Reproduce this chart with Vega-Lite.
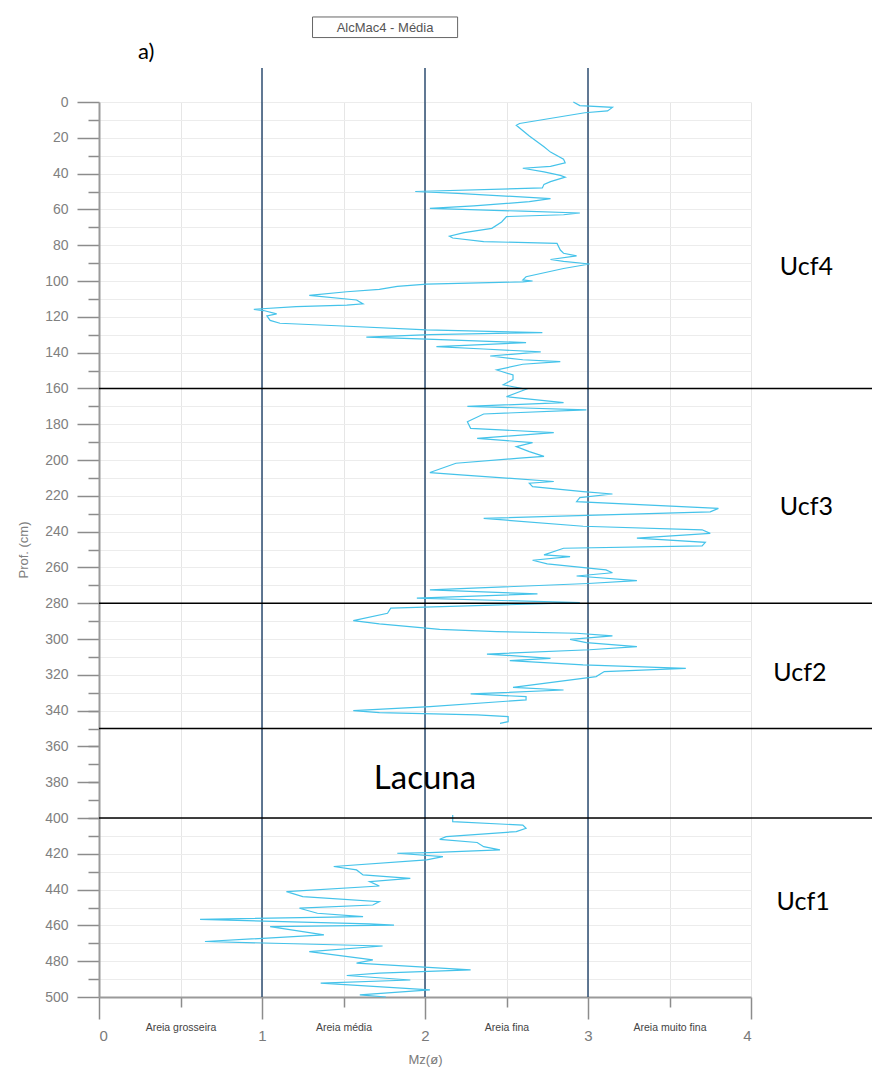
{
  "$schema": "https://vega.github.io/schema/vega-lite/v6.json",
  "width": 652,
  "height": 895,
  "autosize": {"type": "none"},
  "padding": {"left": 99, "top": 102, "right": 121, "bottom": 80},
  "background": "white",
  "config": {"view": {"stroke": null}, "font": "Liberation Sans"},
  "datasets": {
    "curve": [
      {"s":1,"d":0,"mz":2.91},{"s":1,"d":2,"mz":2.95},{"s":1,"d":3,"mz":3.15},{"s":1,"d":5,"mz":3.12},{"s":1,"d":6,"mz":2.98},
      {"s":1,"d":12,"mz":2.58},{"s":1,"d":13,"mz":2.56},{"s":1,"d":19,"mz":2.64},{"s":1,"d":25,"mz":2.73},{"s":1,"d":28,"mz":2.77},
      {"s":1,"d":32,"mz":2.85},{"s":1,"d":34,"mz":2.86},{"s":1,"d":36,"mz":2.77},{"s":1,"d":37,"mz":2.6},{"s":1,"d":39,"mz":2.73},
      {"s":1,"d":41,"mz":2.83},{"s":1,"d":42,"mz":2.86},{"s":1,"d":44.5,"mz":2.77},{"s":1,"d":46,"mz":2.73},{"s":1,"d":48,"mz":2.72},
      {"s":1,"d":50,"mz":1.94},{"s":1,"d":51,"mz":2.2},{"s":1,"d":54,"mz":2.77},{"s":1,"d":55.7,"mz":2.64},{"s":1,"d":58,"mz":2.3},
      {"s":1,"d":59.4,"mz":2.03},{"s":1,"d":61,"mz":2.6},{"s":1,"d":62,"mz":2.95},{"s":1,"d":63,"mz":2.85},{"s":1,"d":64,"mz":2.5},
      {"s":1,"d":67,"mz":2.47},{"s":1,"d":70.6,"mz":2.41},{"s":1,"d":73,"mz":2.24},{"s":1,"d":75,"mz":2.15},{"s":1,"d":76,"mz":2.17},
      {"s":1,"d":78,"mz":2.36},{"s":1,"d":79,"mz":2.81},{"s":1,"d":82.7,"mz":2.83},{"s":1,"d":84.5,"mz":2.85},{"s":1,"d":86,"mz":2.93},
      {"s":1,"d":88,"mz":2.77},{"s":1,"d":89,"mz":2.85},{"s":1,"d":90.5,"mz":3.01},{"s":1,"d":93,"mz":2.85},{"s":1,"d":97.6,"mz":2.62},
      {"s":1,"d":99.4,"mz":2.6},{"s":1,"d":100,"mz":2.66},{"s":1,"d":100.5,"mz":2.6},{"s":1,"d":101.7,"mz":2.01},{"s":1,"d":103,"mz":1.83},
      {"s":1,"d":104.7,"mz":1.72},{"s":1,"d":106,"mz":1.52},{"s":1,"d":108,"mz":1.29},{"s":1,"d":110.6,"mz":1.58},{"s":1,"d":112.8,"mz":1.62},
      {"s":1,"d":113.5,"mz":1.52},{"s":1,"d":114.3,"mz":1.21},{"s":1,"d":115.8,"mz":0.95},{"s":1,"d":116.5,"mz":1.01},{"s":1,"d":118.4,"mz":1.09},
      {"s":1,"d":119.5,"mz":1.03},{"s":1,"d":122,"mz":1.05},{"s":1,"d":123.6,"mz":1.11},{"s":1,"d":125,"mz":1.46},{"s":1,"d":127.3,"mz":2.01},
      {"s":1,"d":128.8,"mz":2.72},{"s":1,"d":130,"mz":2.03},{"s":1,"d":131.4,"mz":1.64},{"s":1,"d":132.5,"mz":2.01},{"s":1,"d":134.4,"mz":2.62},
      {"s":1,"d":136.7,"mz":2.07},{"s":1,"d":138,"mz":2.36},{"s":1,"d":139.6,"mz":2.71},{"s":1,"d":141.9,"mz":2.4},{"s":1,"d":144,"mz":2.6},
      {"s":1,"d":145,"mz":2.83},{"s":1,"d":146.5,"mz":2.6},{"s":1,"d":149.7,"mz":2.44},{"s":1,"d":152.5,"mz":2.54},{"s":1,"d":155,"mz":2.54},
      {"s":1,"d":158,"mz":2.48},{"s":1,"d":160.5,"mz":2.62},{"s":1,"d":164.6,"mz":2.5},{"s":1,"d":168,"mz":2.85},{"s":1,"d":170,"mz":2.26},
      {"s":1,"d":172,"mz":2.99},{"s":1,"d":174.3,"mz":2.36},{"s":1,"d":178.6,"mz":2.26},{"s":1,"d":182.3,"mz":2.28},{"s":1,"d":184.7,"mz":2.79},
      {"s":1,"d":187.9,"mz":2.32},{"s":1,"d":190.3,"mz":2.66},{"s":1,"d":192.5,"mz":2.56},{"s":1,"d":195.3,"mz":2.64},{"s":1,"d":198,"mz":2.73},
      {"s":1,"d":199,"mz":2.58},{"s":1,"d":201.8,"mz":2.19},{"s":1,"d":207,"mz":2.03},{"s":1,"d":208.4,"mz":2.24},{"s":1,"d":212,"mz":2.79},
      {"s":1,"d":213,"mz":2.64},{"s":1,"d":214.9,"mz":2.66},{"s":1,"d":217.7,"mz":2.97},{"s":1,"d":219,"mz":3.15},{"s":1,"d":221,"mz":2.95},
      {"s":1,"d":223.3,"mz":2.93},{"s":1,"d":227,"mz":3.8},{"s":1,"d":229,"mz":3.75},{"s":1,"d":232.6,"mz":2.36},{"s":1,"d":237,"mz":2.97},
      {"s":1,"d":239,"mz":3.7},{"s":1,"d":241,"mz":3.75},{"s":1,"d":243.7,"mz":3.3},{"s":1,"d":246,"mz":3.72},{"s":1,"d":248,"mz":3.7},
      {"s":1,"d":249.3,"mz":2.85},{"s":1,"d":253,"mz":2.73},{"s":1,"d":254,"mz":2.89},{"s":1,"d":256,"mz":2.66},{"s":1,"d":258,"mz":2.75},
      {"s":1,"d":261.4,"mz":3.11},{"s":1,"d":263,"mz":3.15},{"s":1,"d":264.8,"mz":2.93},{"s":1,"d":267.4,"mz":3.3},{"s":1,"d":269,"mz":3.0},
      {"s":1,"d":272.6,"mz":2.03},{"s":1,"d":274.8,"mz":2.69},{"s":1,"d":277.2,"mz":1.95},{"s":1,"d":279.7,"mz":2.95},{"s":1,"d":282.8,"mz":1.79},
      {"s":1,"d":285.6,"mz":1.77},{"s":1,"d":289.7,"mz":1.56},{"s":1,"d":291.6,"mz":1.72},{"s":1,"d":294.6,"mz":2.09},{"s":1,"d":295.9,"mz":2.44},
      {"s":1,"d":296.8,"mz":2.93},{"s":1,"d":298.3,"mz":3.15},{"s":1,"d":300.2,"mz":2.89},{"s":1,"d":302,"mz":2.99},{"s":1,"d":304.3,"mz":3.3},
      {"s":1,"d":306,"mz":3.01},{"s":1,"d":308.4,"mz":2.38},{"s":1,"d":310.8,"mz":2.77},{"s":1,"d":312.1,"mz":2.52},{"s":1,"d":314.5,"mz":2.97},
      {"s":1,"d":316.4,"mz":3.6},{"s":1,"d":318.2,"mz":3.1},{"s":1,"d":321,"mz":3.05},{"s":1,"d":327,"mz":2.54},{"s":1,"d":328.5,"mz":2.85},
      {"s":1,"d":330.7,"mz":2.28},{"s":1,"d":332.2,"mz":2.62},{"s":1,"d":334,"mz":2.62},{"s":1,"d":337.8,"mz":2.03},{"s":1,"d":340,"mz":1.56},
      {"s":1,"d":341.1,"mz":1.72},{"s":1,"d":342.4,"mz":2.32},{"s":1,"d":343.4,"mz":2.51},{"s":1,"d":346.2,"mz":2.51},{"s":1,"d":347.1,"mz":2.46},
      {"s":2,"d":398.3,"mz":2.17},{"s":2,"d":402,"mz":2.17},{"s":2,"d":404,"mz":2.6},{"s":2,"d":405.7,"mz":2.62},{"s":2,"d":407.6,"mz":2.56},
      {"s":2,"d":410.4,"mz":2.13},{"s":2,"d":411.9,"mz":2.09},{"s":2,"d":413.7,"mz":2.32},{"s":2,"d":416,"mz":2.36},{"s":2,"d":417.8,"mz":2.46},
      {"s":2,"d":419.3,"mz":2.03},{"s":2,"d":419.7,"mz":1.83},{"s":2,"d":421.6,"mz":2.11},{"s":2,"d":423.4,"mz":2.01},{"s":2,"d":427.1,"mz":1.44},
      {"s":2,"d":429,"mz":1.58},{"s":2,"d":431.8,"mz":1.62},{"s":2,"d":433.7,"mz":1.91},{"s":2,"d":435.5,"mz":1.66},{"s":2,"d":438,"mz":1.72},
      {"s":2,"d":441.1,"mz":1.15},{"s":2,"d":443.9,"mz":1.25},{"s":2,"d":446.7,"mz":1.72},{"s":2,"d":448.6,"mz":1.68},{"s":2,"d":450.4,"mz":1.23},
      {"s":2,"d":453.2,"mz":1.34},{"s":2,"d":455.1,"mz":1.62},{"s":2,"d":456.6,"mz":0.62},{"s":2,"d":459.2,"mz":1.66},{"s":2,"d":459.8,"mz":1.81},
      {"s":2,"d":460.7,"mz":1.05},{"s":2,"d":465.3,"mz":1.38},{"s":2,"d":469,"mz":0.65},{"s":2,"d":471.5,"mz":1.74},{"s":2,"d":474.6,"mz":1.29},
      {"s":2,"d":479.3,"mz":1.68},{"s":2,"d":481.1,"mz":1.58},{"s":2,"d":484.9,"mz":2.28},{"s":2,"d":486.7,"mz":1.72},{"s":2,"d":488,"mz":1.52},
      {"s":2,"d":490.5,"mz":1.91},{"s":2,"d":492.3,"mz":1.36},{"s":2,"d":496,"mz":2.03},{"s":2,"d":498.8,"mz":1.6},{"s":2,"d":500,"mz":1.76}
    ],
    "vlines": [{"mz": 1}, {"mz": 2}, {"mz": 3}],
    "hlines": [{"d": 160}, {"d": 280}, {"d": 350}, {"d": 400}],
    "labels": [
      {"t": "Ucf4", "x": 4.34, "y": 92, "big": false},
      {"t": "Ucf3", "x": 4.34, "y": 226, "big": false},
      {"t": "Ucf2", "x": 4.3, "y": 319, "big": false},
      {"t": "Ucf1", "x": 4.32, "y": 447, "big": false},
      {"t": "Lacuna", "x": 2.0, "y": 378, "big": true}
    ]
  },
  "layer": [
    {
      "data": {"name": "vlines"},
      "mark": {"type": "rule", "color": "#2d4d70", "strokeWidth": 1.5},
      "encoding": {
        "x": {"field": "mz", "type": "quantitative",
          "scale": {"domain": [0, 4], "nice": false, "zero": false},
          "axis": {"orient": "bottom", "values": [0.5, 1.5, 2.5, 3.5], "tickSize": 10, "tickColor": "#8c8c8c", "tickWidth": 1.5,
            "domain": false, "grid": true, "gridColor": "#e6e6e6", "gridWidth": 1,
            "labelExpr": "datum.value == 0.5 ? 'Areia grosseira' : datum.value == 1.5 ? 'Areia média' : datum.value == 2.5 ? 'Areia fina' : 'Areia muito fina'",
            "labelFontSize": 10.5, "labelColor": "#444444", "labelPadding": 15, "title": null}},
        "y": {"datum": -19, "type": "quantitative",
          "scale": {"domain": [0, 500], "reverse": true, "nice": false, "zero": false},
          "axis": {"orient": "left", "values": [10,30,50,70,90,110,130,150,170,190,210,230,250,270,290,310,330,340,350,360,370,380,390,400,410,430,450,470,490],
            "tickSize": 11, "tickColor": "#8c8c8c", "tickWidth": 1.5, "labels": false, "domain": false,
            "grid": true, "gridColor": "#ececec",
            "gridOpacity": {"condition": {"test": "datum.value > 345 && datum.value < 400", "value": 0}, "value": 1},
            "title": null}},
        "y2": {"datum": 500}
      }
    },
    {
      "data": {"name": "curve"},
      "mark": {"type": "line", "color": "#45c3ea", "strokeWidth": 1.2},
      "encoding": {
        "x": {"field": "mz", "type": "quantitative",
          "axis": {"orient": "bottom", "values": [0, 1, 2, 3, 4], "tickSize": 22, "tickColor": "#8c8c8c", "tickWidth": 1.5,
            "domainColor": "#9a9a9a", "domainWidth": 2, "grid": true, "gridColor": "#e6e6e6",
            "labelFontSize": 15, "labelColor": "#7a7a7a", "labelPadding": 9,
            "title": "Mz(ø)", "titleFontSize": 13, "titleFontWeight": "normal", "titleColor": "#7a7a7a", "titlePadding": 10}},
        "y": {"field": "d", "type": "quantitative",
          "axis": {"orient": "left", "values": [0,20,40,60,80,100,120,140,160,180,200,220,240,260,280,300,320,340,360,380,400,420,440,460,480,500],
            "tickSize": 22, "tickColor": "#8c8c8c", "tickWidth": 1.5, "domainColor": "#9a9a9a", "domainWidth": 2,
            "grid": true, "gridColor": "#ececec",
            "gridOpacity": {"condition": {"test": "datum.value > 345 && datum.value < 400", "value": 0}, "value": 1},
            "labelFontSize": 14, "labelColor": "#808080", "labelPadding": 9,
            "title": "Prof. (cm)", "titleFontSize": 13, "titleFontWeight": "normal", "titleColor": "#808080", "titlePadding": 14}},
        "detail": {"field": "s"},
        "order": {"field": "d", "type": "quantitative"}
      }
    },
    {
      "data": {"name": "hlines"},
      "mark": {"type": "rule", "color": "#000000", "strokeWidth": 1.5},
      "encoding": {
        "y": {"field": "d", "type": "quantitative", "axis": null},
        "x": {"datum": 0, "axis": null},
        "x2": {"datum": 4.75}
      }
    },
    {
      "data": {"name": "labels"},
      "mark": {"type": "text", "font": "Lato", "color": "#000000", "align": "center", "baseline": "middle"},
      "encoding": {
        "x": {"field": "x", "type": "quantitative", "axis": null},
        "y": {"field": "y", "type": "quantitative", "axis": null},
        "text": {"field": "t"},
        "size": {"condition": {"test": "datum.big", "value": 33}, "value": 25}
      }
    },
    {
      "data": {"values": [{"t": "AlcMac4 - Média"}]},
      "layer": [
        {
          "mark": {"type": "rect", "fill": "white", "stroke": "#666666", "strokeWidth": 1},
          "encoding": {
            "x": {"datum": 1.31, "axis": null}, "x2": {"datum": 2.2},
            "y": {"datum": -47.5, "axis": null}, "y2": {"datum": -36}
          }
        },
        {
          "mark": {"type": "text", "font": "Liberation Sans", "fontSize": 13, "color": "#555555", "align": "center", "baseline": "middle"},
          "encoding": {
            "x": {"datum": 1.755, "axis": null},
            "y": {"datum": -41.5, "axis": null},
            "text": {"field": "t"}
          }
        }
      ]
    },
    {
      "data": {"values": [{"t": "a)"}]},
      "mark": {"type": "text", "font": "Lato", "fontSize": 22, "color": "#000000", "align": "center", "baseline": "middle"},
      "encoding": {
        "x": {"datum": 0.29, "axis": null},
        "y": {"datum": -28, "axis": null},
        "text": {"field": "t"}
      }
    }
  ],
  "resolve": {"axis": {"x": "independent", "y": "independent"}}
}
